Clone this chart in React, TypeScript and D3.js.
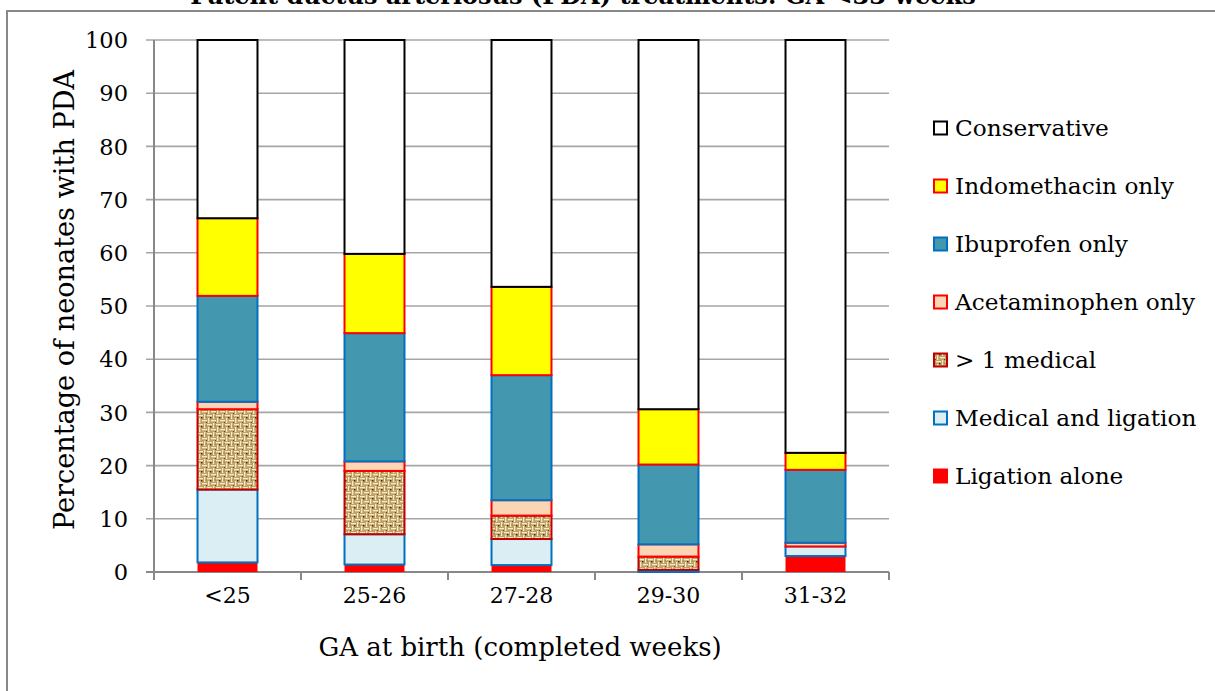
import React from "react";
import * as d3 from "d3";

const categories = ["<25", "25-26", "27-28", "29-30", "31-32"];
const ligationAlone = [1.8, 1.4, 1.3, 0.0, 3.0];
const medicalAndLigation = [13.7, 5.7, 4.9, 0.4, 1.8];
const moreThanOneMedical = [15.1, 11.9, 4.4, 2.5, 0.0];
const acetaminophenOnly = [1.4, 1.8, 2.9, 2.3, 0.7];
const ibuprofenOnly = [19.9, 24.1, 23.5, 15.0, 13.7];
const indomethacinOnly = [14.6, 14.9, 16.6, 10.4, 3.2];
const conservative = [33.5, 40.2, 46.4, 69.4, 77.6];
const yTicks = [0, 10, 20, 30, 40, 50, 60, 70, 80, 90, 100];

const seriesNames = [
  "Ligation alone",
  "Medical and ligation",
  "> 1 medical",
  "Acetaminophen only",
  "Ibuprofen only",
  "Indomethacin only",
  "Conservative",
];
const seriesValues = [
  ligationAlone,
  medicalAndLigation,
  moreThanOneMedical,
  acetaminophenOnly,
  ibuprofenOnly,
  indomethacinOnly,
  conservative,
];
const seriesFill = ["#FF0000", "#DAEEF3", "url(#burlap)", "#FCD5B5", "#4397AF", "#FFFF00", "#FFFFFF"];
const seriesStroke = ["#FF0000", "#0070C0", "#C00000", "#FF0000", "#0070C0", "#FF0000", "#000000"];

const FONT = "'DejaVu Serif', serif";

export default function App() {
  const W = 1215, H = 691;
  const x = d3.scaleBand<string>().domain(categories).range([154, 889]).paddingInner(0.592).paddingOuter(0.296);
  const y = d3.scaleLinear().domain([0, 100]).range([572, 40]);

  const rows = categories.map((c, i) => {
    const r: any = { cat: c };
    seriesNames.forEach((s, k) => (r[s] = seriesValues[k][i]));
    return r;
  });
  const stacked = d3.stack<any>().keys(seriesNames)(rows);

  const legendOrder = [...seriesNames.keys()].reverse();

  return (
    <div style={{ position: "absolute", left: 0, top: 0 }}>
      <svg width={W} height={H} style={{ display: "block", background: "#fff" }}>
        <defs>
          <pattern id="burlap" width="9" height="9" patternUnits="userSpaceOnUse">
            <rect width="9" height="9" fill="#BFA066" />
            <rect x="0" y="1" width="5" height="1.3" fill="#F6EBC4" />
            <rect x="6" y="0" width="1.3" height="5" fill="#F6EBC4" />
            <rect x="4" y="6" width="5" height="1.3" fill="#F6EBC4" />
            <rect x="1" y="4" width="1.3" height="5" fill="#F6EBC4" />
            <rect x="3" y="3" width="1.4" height="1.4" fill="#3E2A12" />
            <rect x="8" y="8" width="1" height="1" fill="#5E4424" />
            <rect x="7.5" y="2.5" width="1" height="1" fill="#7A5E36" />
          </pattern>
        </defs>
        <rect x={0} y={0} width={W} height={H} fill="#fff" />
        <rect x={7} y={11} width={W + 20} height={H + 20} fill="none" stroke="#888" strokeWidth={2} />
        <text x={583} y={4} textAnchor="middle" fontFamily={FONT} fontWeight="bold" fontSize={24} fill="#000">
          Patent ductus arteriosus (PDA) treatments: GA &lt;33 weeks
        </text>

        {/* gridlines */}
        {yTicks.map((t) => (
          <g key={t}>
            <line x1={146} x2={889} y1={y(t)} y2={y(t)} stroke={t === 0 ? "#888" : "#A6A6A6"} strokeWidth={t === 0 ? 2 : 1.6} />
            <text x={128} y={y(t)} dy="0.36em" textAnchor="end" fontFamily={FONT} fontSize={22.5} fill="#000">
              {t}
            </text>
          </g>
        ))}
        <line x1={154} x2={154} y1={40} y2={580} stroke="#888" strokeWidth={2} />
        {categories.map((c, i) => {
          const xr = 154 + (i + 1) * x.step();
          return <line key={c} x1={xr} x2={xr} y1={572} y2={580} stroke="#888" strokeWidth={2} />;
        })}

        {/* bars */}
        {stacked.map((layer, k) => (
          <g key={layer.key}>
            {layer.map((d, i) => {
              const h = y(d[0]) - y(d[1]);
              if (h <= 0) return null;
              return (
                <rect
                  key={i}
                  x={x(categories[i])}
                  y={y(d[1])}
                  width={x.bandwidth()}
                  height={h}
                  fill={seriesFill[k]}
                  stroke={seriesStroke[k]}
                  strokeWidth={k === 0 ? 0 : 2}
                />
              );
            })}
          </g>
        ))}

        {/* x labels */}
        {categories.map((c) => (
          <text key={c} x={(x(c) as number) + x.bandwidth() / 2} y={603} textAnchor="middle" fontFamily={FONT} fontSize={22} fill="#000">
            {c}
          </text>
        ))}
        <text x={520} y={656} textAnchor="middle" fontFamily={FONT} fontSize={26} fill="#000">
          GA at birth (completed weeks)
        </text>
        <text
          transform="translate(74,300) rotate(-90)"
          textAnchor="middle"
          fontFamily={FONT}
          fontSize={28}
          textLength={460}
          lengthAdjust="spacingAndGlyphs"
          fill="#000"
        >
          Percentage of neonates with PDA
        </text>

        {/* legend */}
        {legendOrder.map((k, j) => {
          const cy = 128 + j * 58;
          return (
            <g key={k}>
              <rect x={934} y={cy - 6.5} width={13} height={13} fill={seriesFill[k]} stroke={seriesStroke[k]} strokeWidth={2} />
              <text x={955} y={cy} dy="0.36em" fontFamily={FONT} fontSize={23.2} fill="#000">
                {seriesNames[k]}
              </text>
            </g>
          );
        })}
      </svg>
    </div>
  );
}
